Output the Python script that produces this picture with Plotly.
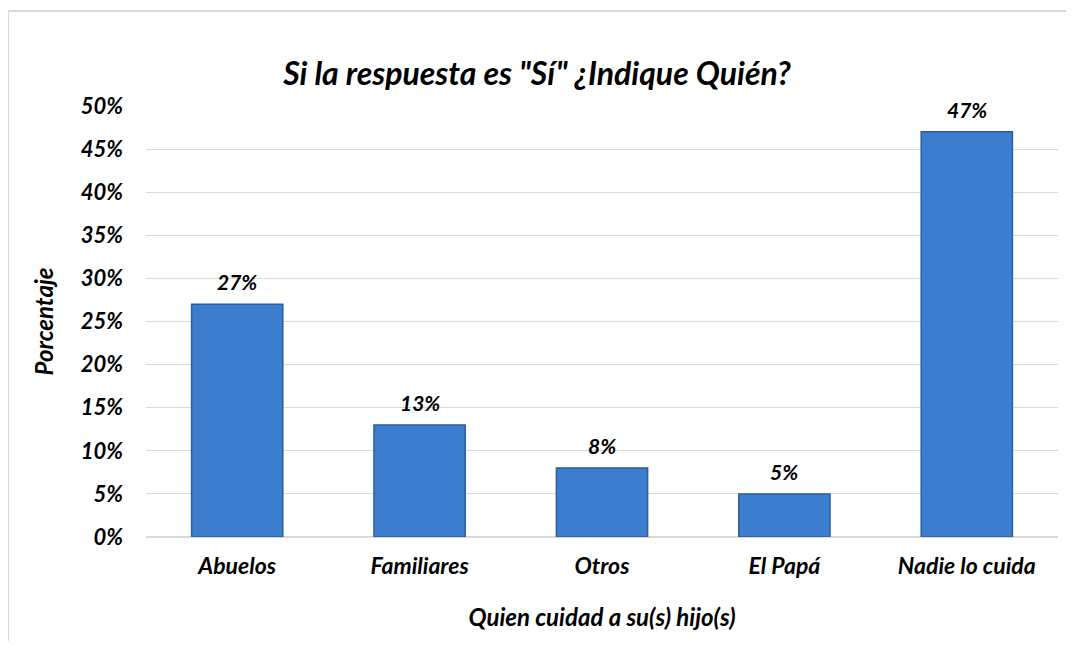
import plotly.graph_objects as go

# data
categories = ["Abuelos", "Familiares", "Otros", "El Papá", "Nadie lo cuida"]
values = [0.27, 0.13, 0.08, 0.05, 0.47]
labels = ["27%", "13%", "8%", "5%", "47%"]
tick_vals = [0, 0.05, 0.10, 0.15, 0.20, 0.25, 0.30, 0.35, 0.40, 0.45, 0.50]
tick_text = ["0%", "5%", "10%", "15%", "20%", "25%", "30%", "35%", "40%", "45%", "50%"]

font_family = "Lato, 'Open Sans', sans-serif"

# the page body adds an 8px margin, so the figure is 16px smaller than the window
W, H = 1058, 633
L, T, R, B = 138, 98, 8, 104
plot_h = H - T - B

fig = go.Figure()
fig.add_trace(go.Bar(
    x=categories,
    y=values,
    marker=dict(color="#3D7DCE", line=dict(color="#2A5C9E", width=1.5)),
    hoverinfo="x+y",
))

# value labels above the bars
for c, v, t in zip(categories, values, labels):
    fig.add_annotation(x=c, y=v, text=f"<b><i>{t}</i></b>", showarrow=False,
                       yanchor="bottom", yshift=8,
                       font=dict(size=21, family=font_family, color="black"))

fig.update_layout(
    width=W, height=H,
    margin=dict(l=L, r=R, t=T, b=B),
    paper_bgcolor="white",
    plot_bgcolor="white",
    font=dict(family=font_family, color="black"),
    bargap=0.5,
    showlegend=False,
    title=dict(
        text="<b><i>Si la respuesta es \"Sí\" ¿Indique Quién?</i></b>",
        x=0.5, xanchor="center",
        y=1 - 66 / H, yanchor="middle",
        font=dict(size=32, family=font_family, color="black"),
    ),
)

fig.update_xaxes(
    automargin=False,
    tickvals=categories,
    ticktext=[f"<b><i>{c}</i></b>" for c in categories],
    tickfont=dict(size=23, family=font_family, color="black"),
    showline=False,
    ticks="",
    ticklabelstandoff=13,
    title=dict(text="<b><i>Quien cuidad a su(s) hijo(s)</i></b>",
               font=dict(size=24, family=font_family, color="black"),
               standoff=31),
)

fig.update_yaxes(
    automargin=False,
    range=[0, 0.5],
    tickvals=tick_vals,
    ticktext=[f"<b><i>{t}</i></b>" for t in tick_text],
    tickfont=dict(size=22, family=font_family, color="black"),
    showgrid=True,
    gridcolor="#D9D9D9",
    gridwidth=1,
    zeroline=True,
    zerolinecolor="#D9D9D9",
    ticks="",
    ticklabelstandoff=22,
    title=dict(text="<b><i>Porcentaje</i></b>",
               font=dict(size=24, family=font_family, color="black"),
               standoff=20),
)

# outer chart frame (left and top edges visible in the reference)
x_left = (0 - L) / (W - L - R)
y_top = (H - B - 3) / plot_h
y_bottom = -B / plot_h
fig.add_shape(type="line", xref="paper", yref="paper",
              x0=x_left, x1=1 + R / (W - L - R),
              y0=y_top, y1=y_top,
              line=dict(color="#D9D9D9", width=2))
fig.add_shape(type="line", xref="paper", yref="paper",
              x0=x_left, x1=x_left,
              y0=y_top, y1=y_bottom,
              line=dict(color="#D9D9D9", width=2))

fig.write_html("out.html")
